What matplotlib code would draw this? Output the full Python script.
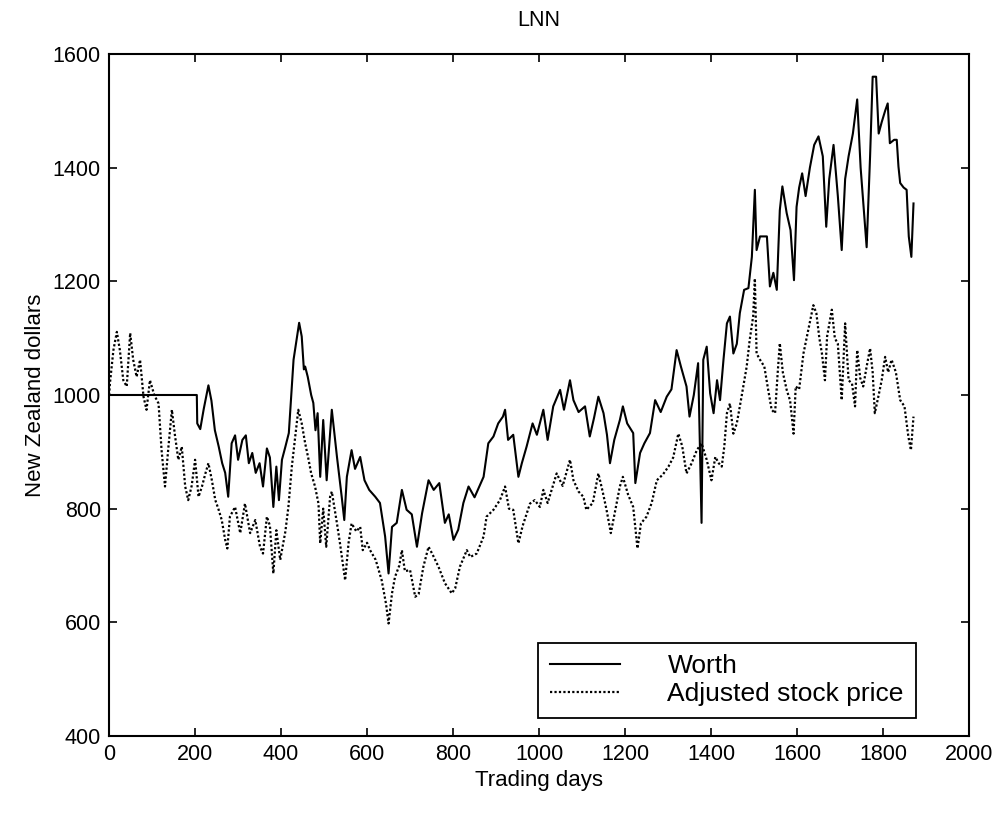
import matplotlib.pyplot as plt

# Worth of the LNN portfolio
worth_days = [0, 204, 205, 212, 220, 231, 238, 246, 255, 263, 270, 277, 285, 293, 300, 310, 318, 325, 333, 341,
              350, 358, 367, 374, 382, 389, 395, 402, 410, 418, 429, 436, 442, 448, 453, 456, 462, 470, 475, 480,
              485, 491, 498, 506, 518, 530, 541, 547, 553, 564, 572, 584, 594, 605, 619, 630, 642, 650, 658, 669,
              681, 692, 704, 716, 728, 743, 755, 768, 781, 790, 801, 812, 824, 836, 850, 871, 882, 894, 905, 916,
              921, 928, 940, 952, 960, 971, 985, 995, 1010, 1020, 1033, 1049, 1058, 1072, 1080, 1092, 1107, 1118,
              1128, 1138, 1150, 1158, 1165, 1175, 1188, 1195, 1205, 1219, 1224, 1235, 1245, 1258, 1270, 1283, 1297,
              1308, 1320, 1330, 1343, 1350, 1360, 1370, 1378, 1382, 1390, 1398, 1406, 1414, 1421, 1429, 1437, 1444,
              1452, 1460, 1467, 1477, 1487, 1495, 1502, 1506, 1514, 1530, 1537, 1545, 1553, 1560, 1566, 1576, 1585,
              1593, 1599, 1605, 1612, 1620, 1630, 1640, 1650, 1660, 1668, 1675, 1685, 1695, 1704, 1712, 1720, 1730,
              1740, 1748, 1755, 1762, 1770, 1776, 1784, 1790, 1797, 1805, 1811, 1816, 1826, 1832, 1836, 1840, 1848,
              1855, 1860, 1866, 1871]
worth_values = [1000, 1000, 950, 940, 975, 1017, 990, 938, 909, 880, 863, 821, 915, 929, 886, 921, 929, 880, 898, 863,
                880, 839, 906, 890, 803, 874, 815, 886, 909, 933, 1062, 1097, 1127, 1103, 1045, 1050, 1032, 1000, 986, 938,
                968, 856, 956, 850, 974, 891, 821, 780, 856, 903, 870, 891, 850, 833, 821, 810, 751, 686, 768, 775,
                833, 798, 790, 733, 792, 850, 833, 845, 775, 790, 745, 763, 810, 839, 820, 856, 915, 927, 950, 962,
                974, 921, 930, 856, 880, 909, 950, 930, 974, 921, 980, 1009, 974, 1026, 991, 970, 980, 927,
                960, 997, 968, 930, 880, 921, 956, 980, 950, 933, 845, 898, 915, 933, 991, 970, 997,
                1010, 1079, 1050, 1015, 962, 1000, 1056, 775, 1062, 1085, 1003, 968, 1026, 991, 1062, 1126, 1138,
                1073, 1090, 1144, 1185, 1188, 1243, 1361, 1255, 1279, 1279, 1191, 1215, 1185, 1325, 1367, 1320, 1290,
                1202, 1331, 1365, 1390, 1350, 1400, 1440, 1455, 1420, 1296, 1380, 1440, 1350, 1255, 1380, 1420, 1460,
                1520, 1400, 1330, 1260, 1420, 1560, 1560, 1460, 1480, 1500, 1513, 1443, 1449, 1449, 1402, 1373, 1365,
                1361, 1279, 1243, 1337]

# Adjusted stock price
price_days = [0, 2, 10, 18, 25, 33, 41, 49, 56, 64, 72, 80, 87, 95, 105, 115, 122, 130, 138, 146,
              153, 161, 169, 177, 184, 192, 200, 208, 216, 224, 231, 239, 247, 254, 262, 270, 275, 281, 293, 305,
              316, 328, 340, 351, 358, 367, 374, 382, 389, 398, 410, 417, 425, 432, 440, 448, 456, 463, 470, 479,
              487, 491, 498, 505, 514, 518, 530, 537, 549, 557, 564, 575, 584, 590, 600, 607, 620, 634, 644, 650,
              658, 665, 675, 681, 688, 700, 712, 720, 731, 743, 752, 766, 781, 797, 805, 816, 832, 840, 855, 871,
              878, 894, 909, 921, 930, 940, 952, 962, 979, 990, 1002, 1010, 1020, 1041, 1055, 1072, 1080, 1092, 1103,
              1110, 1125, 1138, 1148, 1157, 1167, 1178, 1188, 1195, 1207, 1219, 1229, 1237, 1250, 1262, 1274, 1288,
              1301, 1312, 1324, 1333, 1343, 1355, 1367, 1378, 1390, 1401, 1410, 1418, 1425, 1431, 1437, 1444, 1452,
              1460, 1471, 1483, 1490, 1498, 1502, 1506, 1514, 1524, 1533, 1541, 1549, 1555, 1560, 1567, 1576, 1584,
              1592, 1597, 1605, 1615, 1626, 1638, 1645, 1652, 1658, 1665, 1670, 1681, 1688, 1695, 1704, 1712, 1720,
              1728, 1735, 1740, 1747, 1754, 1762, 1770, 1776, 1781, 1790, 1797, 1805, 1812, 1820, 1830, 1840, 1850,
              1859, 1865, 1871]
price_values = [1000, 1021, 1079, 1111, 1079, 1026, 1015, 1109, 1062, 1032, 1062, 997, 974, 1026, 1000, 985, 903, 839, 909, 974,
                930, 886, 909, 839, 815, 840, 886, 821, 839, 862, 880, 850, 815, 800, 780, 745, 730, 786, 803, 757,
                809, 757, 780, 733, 721, 786, 770, 686, 762, 710, 760, 803, 874, 921, 974, 950, 915, 890, 862, 839,
                809, 739, 800, 733, 821, 830, 774, 739, 674, 740, 774, 760, 768, 727, 740, 727, 710, 674, 633, 598,
                651, 680, 700, 727, 690, 692, 645, 650, 698, 733, 720, 698, 669, 651, 660, 698, 727, 715, 721, 751,
                786, 798, 815, 839, 800, 798, 739, 770, 809, 815, 803, 833, 810, 862, 840, 886, 850, 830, 821,
                798, 810, 862, 830, 798, 757, 800, 839, 856, 825, 803, 730, 774, 786, 810, 850, 860,
                874, 890, 932, 910, 862, 880, 903, 915, 886, 850, 891, 880, 874, 910, 968, 985, 932,
                950, 997, 1050, 1097, 1138, 1205, 1073, 1062, 1050, 1009, 974, 968, 1038, 1091, 1040, 1009, 990,
                932, 1015, 1010, 1073, 1114, 1158, 1144, 1100, 1073, 1026, 1103, 1150, 1100, 1090, 991, 1126, 1026,
                1020, 980, 1079, 1030, 1015, 1050, 1082, 1040, 968, 1000, 1026, 1067, 1040, 1062, 1040, 991, 980,
                927, 903, 962]

x_ticks = [0, 200, 400, 600, 800, 1000, 1200, 1400, 1600, 1800, 2000]
y_ticks = [400, 600, 800, 1000, 1200, 1400, 1600]

plt.rcParams['font.family'] = ['Liberation Sans', 'DejaVu Sans']
plt.rcParams['font.size'] = 15

fig = plt.figure(figsize=(10.01, 8.14), dpi=100)
ax = fig.add_axes([0.109, 0.0958, 0.859, 0.8379])

ax.plot(worth_days, worth_values, color='black', linewidth=1.5, label='Worth')
ax.plot(price_days, price_values, color='black', linewidth=1.6, linestyle=(0, (1, 1)), label='Adjusted stock price')

ax.set_xlim(0, 2000)
ax.set_ylim(400, 1600)
ax.set_xticks(x_ticks)
ax.set_yticks(y_ticks)
ax.tick_params(direction='in', length=6, width=1.2, top=True, right=True, labelsize=15.5, pad=6)
for side in ax.spines.values():
    side.set_linewidth(1.5)

ax.set_title('LNN', fontsize=15.5, pad=20)
ax.set_xlabel('Trading days', fontsize=16, labelpad=3)
ax.set_ylabel('New Zealand dollars', fontsize=16, labelpad=5)

leg = ax.legend(loc='lower left', bbox_to_anchor=(0.499, 0.026), fontsize=19, handlelength=2.65,
                handletextpad=1.8, borderpad=0.45, labelspacing=0.15, fancybox=False, framealpha=1,
                edgecolor='black', borderaxespad=0)
leg.get_frame().set_linewidth(1.3)

fig.savefig('out.png', dpi=100)
